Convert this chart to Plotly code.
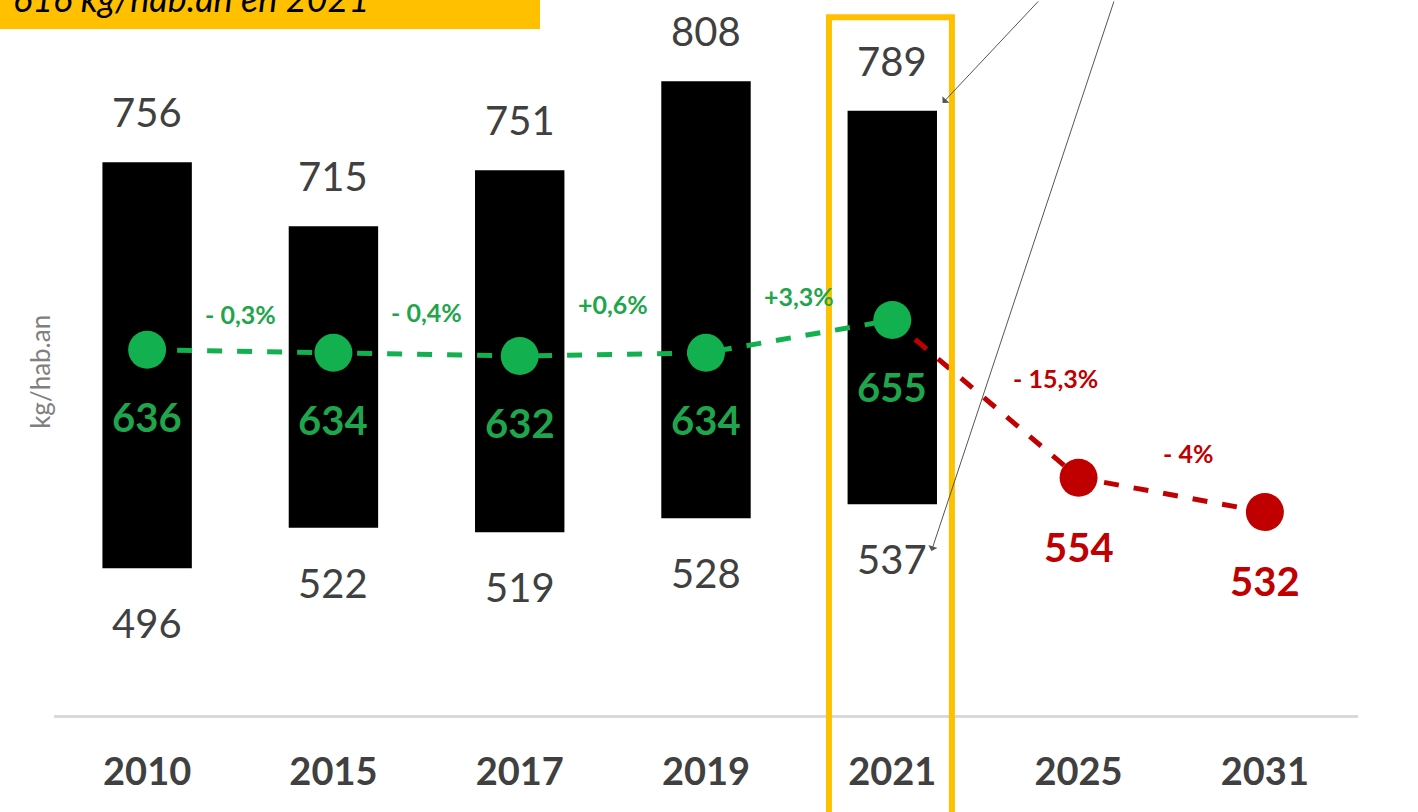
import plotly.graph_objects as go

years = ["2010", "2015", "2017", "2019", "2021", "2025", "2031"]
hist_years = years[:5]
max_vals = [756, 715, 751, 808, 789]
min_vals = [496, 522, 519, 528, 537]
avg_vals = [636, 634, 632, 634, 655]
proj_years = ["2021", "2025", "2031"]
proj_vals = [655, 554, 532]
green_pct = ["- 0,3%", "- 0,4%", "+0,6%", "+3,3%"]
red_pct = ["- 15,3%", "- 4%"]
y_title = "kg/hab.an"
header_text = "616 kg/hab.an en 2021"

GREEN = "#12b04e"
GREEN_T = "#1fa64c"
RED = "#c00000"
GRAY = "#404040"
YELLOW = "#ffc000"
FONT = "Lato, 'Open Sans', sans-serif"

fig = go.Figure()

fig.add_trace(go.Bar(
    x=hist_years, y=[a - b for a, b in zip(max_vals, min_vals)], base=min_vals,
    marker=dict(color="#000000", line=dict(width=0)), width=0.48,
    hoverinfo="skip", showlegend=False))

fig.add_trace(go.Scatter(
    x=hist_years, y=avg_vals, mode="lines",
    line=dict(color=GREEN, width=5, dash="dash"), showlegend=False))
fig.add_trace(go.Scatter(
    x=proj_years, y=proj_vals, mode="lines",
    line=dict(color=RED, width=5, dash="dash"), showlegend=False))
fig.add_trace(go.Scatter(
    x=hist_years, y=avg_vals, mode="markers",
    marker=dict(color=GREEN, size=38), showlegend=False))
fig.add_trace(go.Scatter(
    x=proj_years[1:], y=proj_vals[1:], mode="markers",
    marker=dict(color=RED, size=38), showlegend=False))

ann = []
for i, yr in enumerate(hist_years):
    xi = years.index(yr)
    ann.append(dict(x=xi, y=max_vals[i], text=str(max_vals[i]), showarrow=False,
                    yanchor="middle", yshift=50,
                    font=dict(family=FONT, size=40, color=GRAY)))
    ann.append(dict(x=xi, y=min_vals[i], text=str(min_vals[i]), showarrow=False,
                    yanchor="middle", yshift=-55,
                    font=dict(family=FONT, size=40, color=GRAY)))
    ann.append(dict(x=xi, y=avg_vals[i], text="<b>%d</b>" % avg_vals[i], showarrow=False,
                    yanchor="middle", yshift=-67,
                    font=dict(family=FONT, size=40, color=GREEN_T)))
for yr, v in zip(proj_years[1:], proj_vals[1:]):
    ann.append(dict(x=years.index(yr), y=v, text="<b>%d</b>" % v, showarrow=False,
                    yanchor="middle", yshift=-69,
                    font=dict(family=FONT, size=40, color=RED)))

g_shift = [37, 42, 50, 40]
for i, t in enumerate(green_pct):
    ann.append(dict(x=i + 0.5, y=(avg_vals[i] + avg_vals[i + 1]) / 2, text="<b>%s</b>" % t,
                    showarrow=False, yanchor="middle", yshift=g_shift[i],
                    font=dict(family=FONT, size=25, color=GREEN_T)))
r_shift = [(70, 21), (16, 42)]
for i, t in enumerate(red_pct):
    ann.append(dict(x=i + 4.5, y=(proj_vals[i] + proj_vals[i + 1]) / 2, text="<b>%s</b>" % t,
                    showarrow=False, yanchor="middle", xshift=r_shift[i][0], yshift=r_shift[i][1],
                    font=dict(family=FONT, size=25, color=RED)))

# y title
ann.append(dict(xref="paper", yref="paper", x=-0.0107, y=0.48, text=y_title, textangle=-90,
                showarrow=False, xanchor="center", yanchor="middle",
                font=dict(family=FONT, size=26, color="#808080")))

# header (cut off at top)
ann.append(dict(xref="paper", yref="paper", x=-0.033, y=0.969, text="<i>%s</i>" % header_text,
                showarrow=False, xanchor="left", yanchor="bottom",
                font=dict(family=FONT, size=36, color="#000000")))

# arrows
ann.append(dict(x=4.27, y=794, text="", showarrow=True, arrowhead=1, arrowsize=1.6,
                arrowwidth=1, arrowcolor="#555555", ax=97, ay=-108))
ann.append(dict(x=4.21, y=507, text="", showarrow=True, arrowhead=1, arrowsize=1.6,
                arrowwidth=1, arrowcolor="#555555", ax=183, ay=-560))

shapes = [
    dict(type="rect", xref="paper", yref="paper", x0=-0.05, x1=0.3727, y0=0.9594, y1=1.05,
         fillcolor=YELLOW, line=dict(width=0), layer="below"),
    dict(type="rect", xref="x", yref="paper", x0=3.66, x1=4.32, y0=-0.14, y1=0.976,
         fillcolor="rgba(0,0,0,0)", line=dict(color=YELLOW, width=6)),
]

fig.update_layout(
    width=1418, height=812,
    margin=dict(l=54, r=60, t=0, b=97),
    plot_bgcolor="white", paper_bgcolor="white",
    annotations=ann, shapes=shapes, bargap=0.5,
    xaxis=dict(type="category", categoryorder="array", categoryarray=years,
               range=[-0.5, 6.5], showgrid=False, zeroline=False,
               showline=True, linecolor="#d9d9d9", linewidth=3,
               ticks="", ticklabelstandoff=21,
               tickfont=dict(family=FONT, size=38, color=GRAY, weight="bold")),
    yaxis=dict(range=[402, 860], showgrid=False, zeroline=False, showticklabels=False,
               showline=False),
)

fig.write_html("out.html", config={"displayModeBar": False},
               post_script="document.body.style.margin='0';")
